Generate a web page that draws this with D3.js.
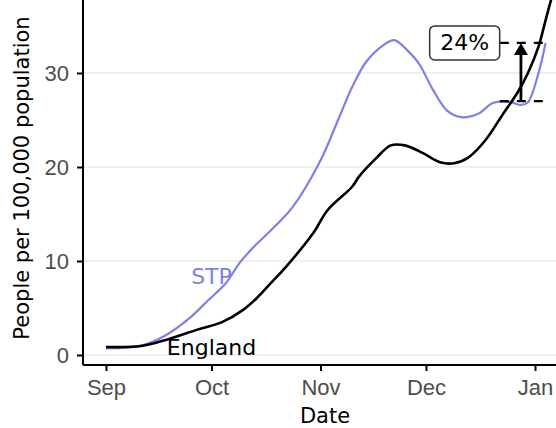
<!DOCTYPE html>
<html>
<head>
<meta charset="utf-8">
<script src="https://cdn.jsdelivr.net/npm/d3@7"></script>
<style>
  body { margin: 0; background: #fff; }
  svg { display: block; font-family: "DejaVu Sans", sans-serif; }
  .grid line { stroke: #ebebeb; stroke-width: 1.6; }
  .axis path, .axis line { stroke: #000; stroke-width: 2; }
  .axis text { fill: #4d4d4d; font-size: 22px; }
</style>
</head>
<body>
<svg id="chart" width="556" height="428"></svg>
<script>
// values
var stpDates = ["2020-09-01","2020-09-11","2020-09-18","2020-09-25","2020-09-30","2020-10-05",
  "2020-10-09","2020-10-13","2020-10-18","2020-10-24","2020-11-01","2020-11-06","2020-11-10",
  "2020-11-14","2020-11-19","2020-11-22","2020-11-26","2020-11-29","2020-12-03","2020-12-07",
  "2020-12-11","2020-12-16","2020-12-20","2020-12-25","2020-12-28","2020-12-30","2021-01-02","2021-01-04"];
var stpValues = [0.7, 1.0, 2.1, 4.0, 5.8, 7.6, 9.8, 11.5, 13.3, 15.7, 20.7, 25.0, 28.5,
  31.2, 33.0, 33.5, 32.3, 31.0, 28.2, 26.0, 25.3, 25.7, 26.8, 26.9, 26.6, 26.9, 30.0, 33.2];

var engDates = ["2020-09-01","2020-09-11","2020-09-18","2020-09-27","2020-10-04","2020-10-10",
  "2020-10-14","2020-10-18","2020-10-22","2020-10-30","2020-11-03","2020-11-10","2020-11-12",
  "2020-11-17","2020-11-21","2020-11-25","2020-11-30","2020-12-05","2020-12-09","2020-12-13",
  "2020-12-18","2020-12-23","2020-12-27","2020-12-30","2021-01-02","2021-01-04","2021-01-06","2021-01-08"];
var engValues = [0.85, 0.95, 1.6, 2.7, 3.5, 4.8, 6.1, 7.7, 9.3, 13.0, 15.4, 17.9, 19.0,
  21.0, 22.3, 22.3, 21.5, 20.5, 20.4, 21.0, 22.9, 25.7, 27.9, 30.0, 32.8, 35.6, 38.4, 41.2];

var xTicks = ["2020-09-01","2020-10-01","2020-11-01","2020-12-01","2021-01-01"];
var yTicks = [0, 10, 20, 30];

// annotation: STP vs England at the end
var annoTop = 33.2, annoBottom = 27.0;
var annoLabel = "24%";
var annoStart = "2020-12-22", annoEnd = "2021-01-05", annoArrowDate = "2020-12-28";
var annoLabelDate = "2020-12-12";

var parse = d3.timeParse("%Y-%m-%d");
var stp = stpDates.map(function(d, i) { return {date: parse(d), value: stpValues[i]}; });
var eng = engDates.map(function(d, i) { return {date: parse(d), value: engValues[i]}; });

var svg = d3.select("#chart");
var margin = {top: -21, left: 83, bottom: 63},
    pad = 10,
    plotBottom = 428 - margin.bottom;

var x = d3.scaleTime()
    .domain([parse("2020-09-01"), parse("2021-01-01")])
    .range([margin.left + 23, 535]);

var y = d3.scaleLinear()
    .domain([0, 40])
    .range([plotBottom - pad, margin.top]);

// horizontal grid
svg.append("g").attr("class", "grid")
  .selectAll("line").data(yTicks).enter().append("line")
    .attr("x1", margin.left).attr("x2", 556)
    .attr("y1", function(d) { return y(d); })
    .attr("y2", function(d) { return y(d); });

var line = d3.line()
    .x(function(d) { return x(d.date); })
    .y(function(d) { return y(d.value); })
    .curve(d3.curveCatmullRom.alpha(0.5));

svg.append("path").datum(stp)
    .attr("fill", "none").attr("stroke", "#7f7fe8").attr("stroke-width", 2.2)
    .attr("d", line);

svg.append("path").datum(eng)
    .attr("fill", "none").attr("stroke", "#000").attr("stroke-width", 2.6)
    .attr("d", line);

// series labels
svg.append("text")
    .attr("x", x(parse("2020-10-01"))).attr("y", y(8.4))
    .attr("text-anchor", "middle").attr("dominant-baseline", "central")
    .attr("fill", "#7f7fe8").attr("font-size", 22).text("STP");
svg.append("text")
    .attr("x", x(parse("2020-10-01"))).attr("y", y(0.75))
    .attr("text-anchor", "middle").attr("dominant-baseline", "central")
    .attr("fill", "#000").attr("font-size", 22).text("England");

// axes
var xAxis = svg.append("g").attr("class", "axis")
    .attr("transform", "translate(0," + plotBottom + ")")
    .call(d3.axisBottom(x).tickValues(xTicks.map(parse)).tickFormat(d3.timeFormat("%b"))
      .tickSize(6).tickPadding(8).tickSizeOuter(0));
xAxis.select(".domain").attr("d", "M" + margin.left + ",0H560");

var yAxis = svg.append("g").attr("class", "axis")
    .attr("transform", "translate(" + margin.left + ",0)")
    .call(d3.axisLeft(y).tickValues(yTicks).tickSize(6).tickPadding(8).tickSizeOuter(0));
yAxis.select(".domain").attr("d", "M0," + plotBottom + "V-10");

svg.append("text")
    .attr("x", 325).attr("y", 423)
    .attr("text-anchor", "middle").attr("font-size", 21).attr("fill", "#000")
    .text("Date");

svg.append("text")
    .attr("transform", "translate(29,178) rotate(-90)")
    .attr("text-anchor", "middle").attr("font-size", 21).attr("fill", "#000")
    .text("People per 100,000 population");

// annotation: dashed reference lines, arrow, label
var anno = svg.append("g");
[annoTop, annoBottom].forEach(function(v) {
  anno.append("line")
    .attr("x1", x(parse(annoStart))).attr("x2", x(parse(annoEnd)))
    .attr("y1", y(v)).attr("y2", y(v))
    .attr("stroke", "#000").attr("stroke-width", 2.2)
    .attr("stroke-dasharray", "9,8");
});

var ax = x(parse(annoArrowDate));
anno.append("line")
    .attr("x1", ax).attr("x2", ax)
    .attr("y1", y(annoBottom)).attr("y2", y(annoTop) + 10)
    .attr("stroke", "#000").attr("stroke-width", 2.8);
anno.append("path")
    .attr("d", "M" + (ax - 7) + "," + (y(annoTop) + 12) + "L" + ax + "," + y(annoTop) +
      "L" + (ax + 7) + "," + (y(annoTop) + 12) + "Z")
    .attr("fill", "#000");

var lx = x(parse(annoLabelDate)), ly = y(annoTop);
anno.append("rect")
    .attr("x", lx - 35).attr("y", ly - 17).attr("width", 70).attr("height", 34)
    .attr("rx", 5).attr("fill", "#fff").attr("stroke", "#333").attr("stroke-width", 1.5);
anno.append("text")
    .attr("x", lx).attr("y", ly)
    .attr("text-anchor", "middle").attr("dominant-baseline", "central")
    .attr("font-size", 22).attr("fill", "#000").text(annoLabel);
</script>
</body>
</html>
